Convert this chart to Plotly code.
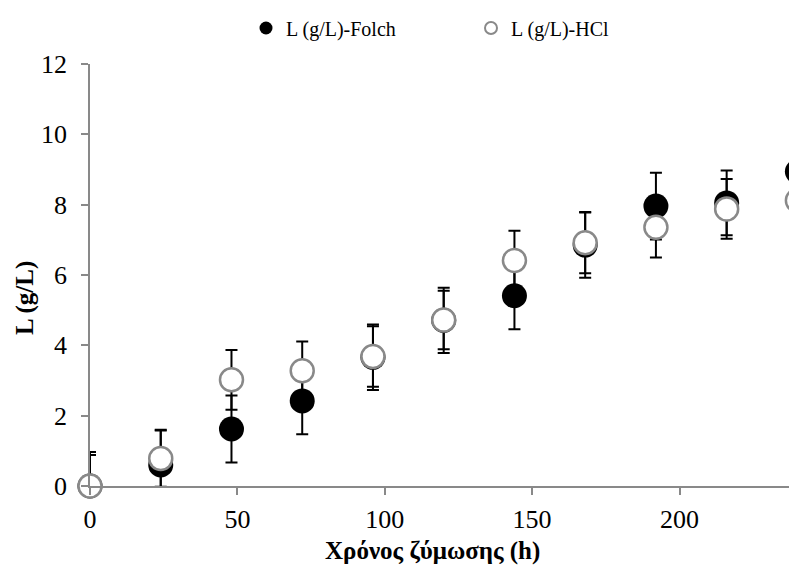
import plotly.graph_objects as go

time_h = [0, 24, 48, 72, 96, 120, 144, 168, 192, 216, 240]
folch = [0.0, 0.6, 1.62, 2.42, 3.66, 4.71, 5.41, 6.85, 7.96, 8.05, 8.94]
folch_err = [0.97, 1.0, 0.95, 0.95, 0.93, 0.93, 0.95, 0.93, 0.95, 0.92, 0.9]
hcl = [0.0, 0.78, 3.02, 3.28, 3.68, 4.72, 6.41, 6.92, 7.36, 7.88, 8.12]
hcl_err = [0.88, 0.8, 0.85, 0.83, 0.86, 0.83, 0.85, 0.87, 0.86, 0.85, 0.85]

names = ["L (g/L)-Folch", "L (g/L)-HCl"]
x_ticks = [0, 50, 100, 150, 200]
y_ticks = [0, 2, 4, 6, 8, 10, 12]

GRAY = "#898989"
FONT = "Liberation Serif"

# the original chart's plot area runs past the right edge of the picture
FIG_W, FIG_H = 800, 567
ML, MR, MT, MB = 90, 0, 64, 81
PW = FIG_W - ML - MR
PH = FIG_H - MT - MB
X_MAX = PW / 2.9475

def px_x(p):
    return (p - ML) / PW

def px_y(p):
    return (FIG_H - MB - p) / PH

fig = go.Figure()

def err_trace(y, e):
    return go.Scatter(
        x=time_h, y=y, mode="markers",
        marker=dict(size=1, color="rgba(0,0,0,0)"),
        error_y=dict(type="data", array=e, visible=True, color="black",
                     thickness=2, width=6),
        cliponaxis=True, showlegend=False, hoverinfo="skip")

# Folch
fig.add_trace(err_trace(folch, folch_err))
fig.add_trace(go.Scatter(
    x=time_h, y=folch, mode="markers", name=names[0],
    marker=dict(size=25, color="black", line=dict(width=0)),
    cliponaxis=False, showlegend=False))
# HCl
fig.add_trace(err_trace(hcl, hcl_err))
fig.add_trace(go.Scatter(
    x=time_h, y=hcl, mode="markers", name=names[1],
    marker=dict(size=23, color="white", line=dict(width=2.5, color=GRAY)),
    cliponaxis=False, showlegend=False))

# legend entries
fig.add_trace(go.Scatter(x=[None], y=[None], mode="markers", name=names[0],
                         marker=dict(size=13, color="black")))
fig.add_trace(go.Scatter(x=[None], y=[None], mode="markers", name=names[1],
                         marker=dict(size=12, color="white",
                                     line=dict(width=2, color=GRAY))))

fig.update_layout(
    width=FIG_W, height=FIG_H,
    margin=dict(l=ML, r=MR, t=MT, b=MB),
    plot_bgcolor="white", paper_bgcolor="white",
    font=dict(family=FONT, size=20, color="black"),
    legend=dict(orientation="h", x=px_x(246), xanchor="left", y=px_y(28),
                yanchor="middle", font=dict(size=20), itemwidth=30,
                bgcolor="rgba(0,0,0,0)", entrywidth=180,
                entrywidthmode="pixels"),
    xaxis=dict(range=[0, X_MAX], tickvals=x_ticks, showgrid=False,
               zeroline=False, showline=True, linecolor=GRAY, linewidth=1.5,
               ticks="outside", ticklen=7, tickcolor=GRAY, tickwidth=1.5,
               ticklabelstandoff=2, tickfont=dict(size=26, family=FONT)),
    yaxis=dict(range=[0, 12], tickvals=y_ticks, showgrid=False,
               zeroline=False, showline=True, linecolor=GRAY, linewidth=1.5,
               ticks="outside", ticklen=7, tickcolor=GRAY, tickwidth=1.5,
               ticklabelstandoff=9, tickfont=dict(size=26, family=FONT)),
    annotations=[
        dict(text="<b>Χρόνος ζύμωσης (h)</b>", xref="paper", yref="paper",
             x=px_x(432), y=px_y(551), xanchor="center",
             yanchor="middle", showarrow=False,
             font=dict(size=25, family=FONT)),
        dict(text="<b>L (g/L)</b>", xref="paper", yref="paper",
             x=px_x(25), y=px_y(298), xanchor="center",
             yanchor="middle", showarrow=False, textangle=-90,
             font=dict(size=25, family=FONT)),
    ],
)

fig.write_html("out.html")
